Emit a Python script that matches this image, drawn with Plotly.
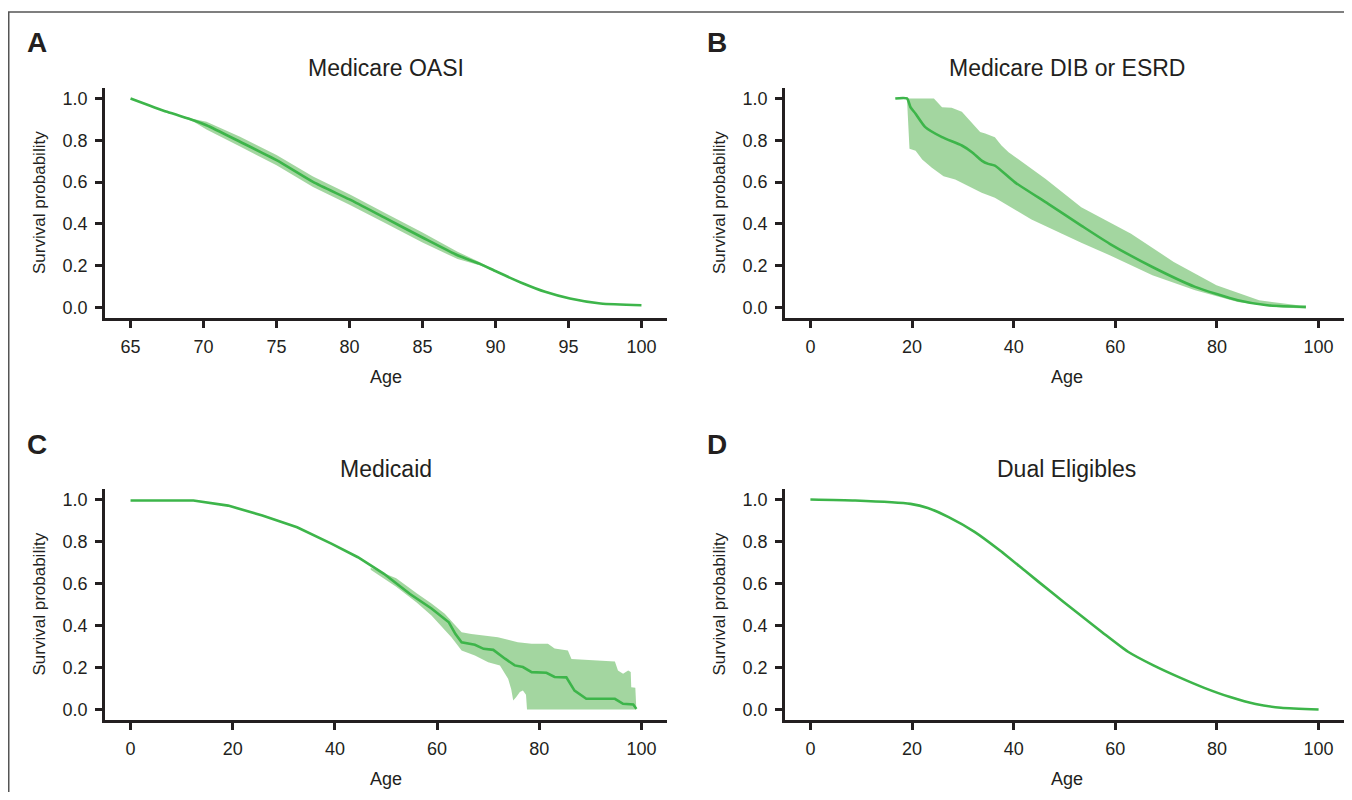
import plotly.graph_objects as go

# ---------------- data ----------------
# Panel A: Medicare OASI
a_age = [65, 67.5, 69.3, 70.2, 72.5, 75, 77.5, 80, 82.5, 85, 87.4, 88.9, 90.1, 91.9, 93.4, 95.1, 97.2, 100]
a_surv = [1.0, 0.936, 0.896, 0.872, 0.793, 0.705, 0.601, 0.517, 0.426, 0.335, 0.25, 0.21, 0.171, 0.115, 0.075, 0.043, 0.019, 0.011]
a_upper = [1.0, 0.937, 0.902, 0.889, 0.817, 0.729, 0.627, 0.542, 0.45, 0.359, 0.267, 0.218, 0.173, 0.116, 0.076, 0.044, 0.02, 0.012]
a_lower = [1.0, 0.935, 0.890, 0.851, 0.770, 0.681, 0.576, 0.492, 0.402, 0.311, 0.232, 0.202, 0.169, 0.114, 0.074, 0.042, 0.018, 0.01]

# Panel B: Medicare DIB or ESRD
b_age = [16.7, 19.0, 19.7, 20.7, 22.6, 25.9, 29.8, 31.8, 33.7, 35.0, 36.3, 40.2, 46.8, 53.3, 58.9, 67.3, 75.7, 84.1, 89.9, 97.5]
b_surv = [1.0, 1.0, 0.958, 0.927, 0.863, 0.815, 0.775, 0.743, 0.703, 0.687, 0.679, 0.6, 0.496, 0.392, 0.305, 0.194, 0.099, 0.035, 0.011, 0.003]
b_up_age = [16.7, 24.3, 25.9, 27.8, 29.8, 31.8, 33.4, 34.4, 36.3, 37.6, 39.0, 46.3, 53.3, 63.1, 71.5, 79.9, 88.3, 97.5]
b_up = [1.0, 1.0, 0.958, 0.955, 0.936, 0.88, 0.84, 0.832, 0.815, 0.775, 0.743, 0.615, 0.48, 0.353, 0.218, 0.107, 0.035, 0.006]
b_lo_age = [16.7, 19.0, 19.5, 20.7, 22.0, 23.9, 26.2, 28.5, 31.1, 33.7, 36.3, 37.6, 43.5, 53.3, 58.9, 67.3, 75.7, 84.1, 92.5, 97.5]
b_lo = [1.0, 1.0, 0.759, 0.75, 0.708, 0.668, 0.628, 0.612, 0.58, 0.549, 0.525, 0.509, 0.421, 0.31, 0.25, 0.154, 0.083, 0.027, 0.0, -0.005]

# Panel C: Medicaid
c_age = [0, 12.3, 19.1, 25.8, 32.6, 39.4, 44.5, 49.6, 54.7, 58.9, 62.3, 63.6, 64.8, 67.4, 69.1, 71.0, 73.3, 75.2, 76.8, 78.5, 81.4, 83.0, 85.3, 86.9, 89.2, 94.8, 96.4, 98.4, 99.0]
c_surv = [0.995, 0.995, 0.971, 0.924, 0.868, 0.789, 0.725, 0.646, 0.55, 0.481, 0.415, 0.359, 0.32, 0.308, 0.289, 0.284, 0.242, 0.21, 0.202, 0.178, 0.175, 0.155, 0.153, 0.09, 0.051, 0.051, 0.027, 0.024, 0.003]
c_up_age = [47, 52, 56, 58.9, 61.5, 63.5, 64.8, 66.7, 71.9, 75.8, 78.5, 81.7, 83.0, 85.6, 86.3, 94.8, 95.4, 96.4, 97.4, 97.9, 98.0, 98.8, 99.0]
c_up = [0.675, 0.625, 0.553, 0.505, 0.456, 0.40, 0.368, 0.36, 0.344, 0.32, 0.313, 0.313, 0.29, 0.281, 0.241, 0.229, 0.186, 0.17, 0.186, 0.178, 0.106, 0.103, 0.0]
c_lo_age = [47, 52, 56, 58.9, 62.8, 64.8, 67.4, 70.0, 72.3, 73.9, 74.5, 74.9, 75.5, 76.2, 76.8, 77.4, 77.6, 99.0]
c_lo = [0.665, 0.585, 0.51, 0.448, 0.344, 0.281, 0.257, 0.225, 0.21, 0.146, 0.098, 0.043, 0.06, 0.083, 0.09, 0.07, 0.0, 0.0]

# Panel D: Dual Eligibles
d_age = [0, 8.8, 19.7, 23.1, 27.2, 32.3, 37.3, 42.3, 47.4, 52.4, 57.4, 62.5, 67.5, 72.5, 77.5, 82.6, 87.6, 92.6, 100]
d_surv = [1.0, 0.995, 0.979, 0.96, 0.916, 0.846, 0.757, 0.659, 0.559, 0.463, 0.368, 0.275, 0.21, 0.154, 0.103, 0.059, 0.026, 0.008, 0.0]

titles = ["Medicare OASI", "Medicare DIB or ESRD", "Medicaid", "Dual Eligibles"]
letters = ["A", "B", "C", "D"]
x_ticks_a = [65, 70, 75, 80, 85, 90, 95, 100]
x_ticks_full = [0, 20, 40, 60, 80, 100]
y_ticks = [0.0, 0.2, 0.4, 0.6, 0.8, 1.0]

# ---------------- styling ----------------
OFF = 8                      # page body margin
W, H = 1352 - 2 * OFF, 800 - 2 * OFF
LINE = "#3db54a"
BAND = "rgba(120,195,115,0.68)"
INK = "#231f20"
SANS = "Liberation Sans, Arial, Helvetica, sans-serif"

# plot-area pixel boxes in page coords (left, right, top, bottom)
boxes = [(105, 667, 88, 318), (785, 1348, 88, 318), (105, 667, 489, 720), (785, 1348, 489, 720)]

def px(x):
    return (x - OFF) / W

def py(y):
    return 1 - (y - OFF) / H

fig = go.Figure()

def band(age_up, up, age_lo, lo, ax):
    xs = list(age_up) + list(reversed(age_lo))
    ys = list(up) + list(reversed(lo))
    fig.add_trace(go.Scatter(x=xs, y=ys, fill="toself", fillcolor=BAND, line=dict(width=0),
                             mode="lines", hoverinfo="skip", showlegend=False,
                             xaxis="x" + ax, yaxis="y" + ax))

def line(age, surv, ax, shape="spline"):
    fig.add_trace(go.Scatter(x=age, y=surv, mode="lines",
                             line=dict(color=LINE, width=2.6, shape=shape, smoothing=0.6),
                             showlegend=False, xaxis="x" + ax, yaxis="y" + ax))

band(a_age, a_upper, a_age, a_lower, "")
line(a_age, a_surv, "")
band(b_up_age, b_up, b_lo_age, b_lo, "2")
line(b_age, b_surv, "2")
band(c_up_age, c_up, c_lo_age, c_lo, "3")
line(c_age, c_surv, "3", shape="linear")
line(d_age, d_surv, "4")

layout = dict(width=W, height=H, margin=dict(l=0, r=0, t=0, b=0),
              paper_bgcolor="white", plot_bgcolor="white", showlegend=False)

annotations = []
for i, (l, r, t, b) in enumerate(boxes):
    sfx = "" if i == 0 else str(i + 1)
    xdom = [px(l), min(px(r), 1.0)]
    ydom = [py(b), py(t)]
    xr = [63.25, 101.75] if i == 0 else [-5, 105]
    xt = x_ticks_a if i == 0 else x_ticks_full
    axcommon = dict(showline=True, linecolor=INK, linewidth=2.5, ticks="outside", ticklen=7, tickwidth=2.5,
                    tickcolor=INK, showgrid=False, zeroline=False, mirror=False,
                    tickfont=dict(family=SANS, size=18, color=INK))
    layout["xaxis" + sfx] = dict(domain=xdom, range=xr, tickvals=xt, anchor="y" + sfx,
                                 ticklabelstandoff=4, **axcommon)
    layout["yaxis" + sfx] = dict(domain=ydom, range=[-0.05, 1.05], tickvals=y_ticks, tickformat=".1f",
                                 anchor="x" + sfx, ticklabelstandoff=4, **axcommon)
    cx = (l + r) / 2
    annotations.append(dict(text=titles[i], x=px(cx), y=py(t - 20), xref="paper", yref="paper",
                            showarrow=False, xanchor="center", yanchor="middle",
                            font=dict(family=SANS, size=23, color=INK)))
    annotations.append(dict(text="<b>" + letters[i] + "</b>", x=px(l - 68), y=py(t - 45),
                            xref="paper", yref="paper", showarrow=False, xanchor="center", yanchor="middle",
                            font=dict(family=SANS, size=28, color=INK)))
    annotations.append(dict(text="Survival probability", x=px(l - 66), y=py((t + b) / 2),
                            xref="paper", yref="paper", showarrow=False, textangle=-90,
                            xanchor="center", yanchor="middle",
                            font=dict(family=SANS, size=17, color=INK)))
    annotations.append(dict(text="Age", x=px(cx), y=py(b + 59), xref="paper", yref="paper",
                            showarrow=False, xanchor="center", yanchor="middle",
                            font=dict(family=SANS, size=18, color=INK)))

layout["annotations"] = annotations
layout["shapes"] = [
    dict(type="line", xref="paper", yref="paper", x0=px(8), x1=1.0, y0=py(12), y1=py(12),
         line=dict(color="#555555", width=1.5)),
    dict(type="line", xref="paper", yref="paper", x0=px(8.75), x1=px(8.75), y0=py(12), y1=0,
         line=dict(color="#555555", width=1.5)),
]
fig.update_layout(**layout)
fig.write_html("out.html")
